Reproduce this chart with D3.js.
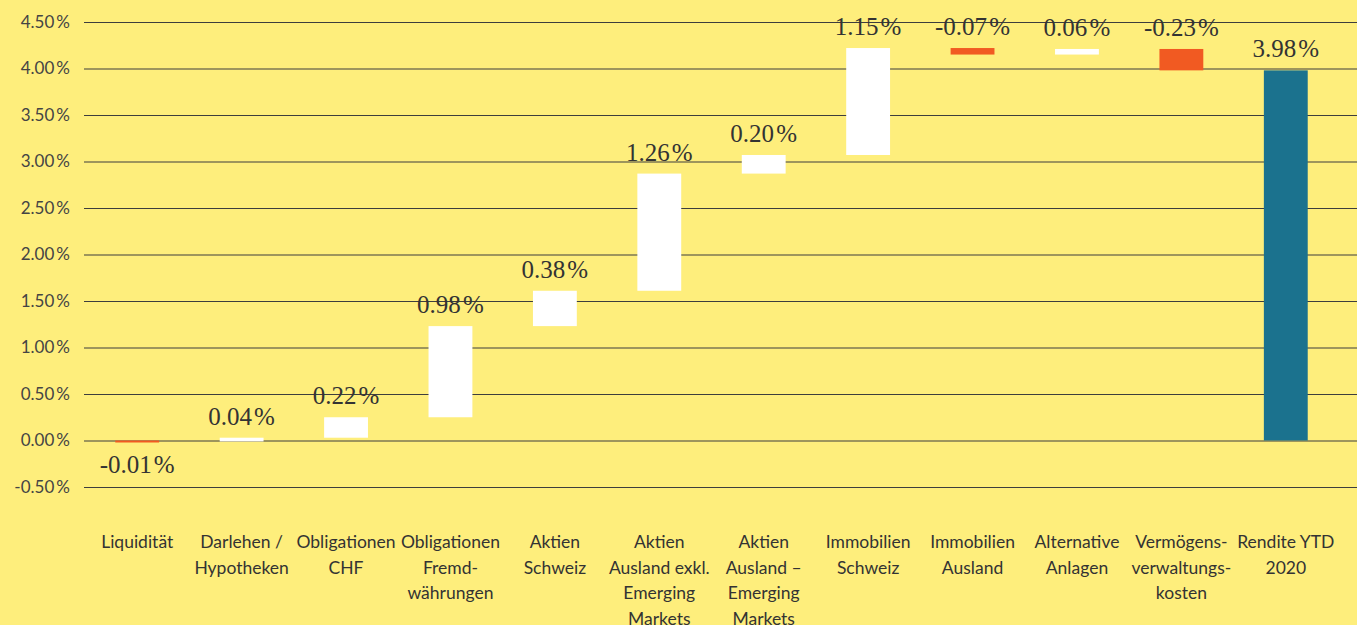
<!DOCTYPE html>
<html>
<head>
<meta charset="utf-8">
<script src="https://cdn.jsdelivr.net/npm/d3@7"></script>
<style>
  html, body { margin: 0; padding: 0; background: #FEEE7C; }
  svg { display: block; }
  .tick text { font-family: Lato, "Liberation Sans", sans-serif; }
</style>
</head>
<body>
<svg id="chart"></svg>
<script>
// Waterfall: Beiträge zur Rendite YTD 2020
const categories = [
  "Liquidität", "Darlehen /\nHypotheken", "Obligationen\nCHF", "Obligationen\nFremd-\nwährungen",
  "Aktien\nSchweiz", "Aktien\nAusland exkl.\nEmerging\nMarkets", "Aktien\nAusland –\nEmerging\nMarkets",
  "Immobilien\nSchweiz", "Immobilien\nAusland", "Alternative\nAnlagen",
  "Vermögens-\nverwaltungs-\nkosten", "Rendite YTD\n2020"
]
const contributions = [-0.01, 0.04, 0.22, 0.98, 0.38, 1.26, 0.20, 1.15, -0.07, 0.06, -0.23]
const total = 3.98
const yTicks = [-0.5, 0, 0.5, 1, 1.5, 2, 2.5, 3, 3.5, 4, 4.5]

const width = 1357, height = 625
const svg = d3.select('#chart').attr('width', width).attr('height', height)

const x = d3.scaleBand()
    .domain(categories)
    .range([85, 1338])
    .paddingInner(0.58)
    .paddingOuter(0.29)

const y = d3.scaleLinear()
    .domain([-0.5, 4.5])
    .range([487, 22])

// Bindestrich statt Minuszeichen wie im Original
const fmt = d3.formatLocale({ decimal: '.', thousands: "'", grouping: [3], currency: ['', ''], minus: '-' }).format('.2f')
const pctAxis = v => fmt(v) + '\u2009%'
const pctLabel = v => fmt(v) + '\u200a%'

// Gitterlinien + y-Achse
const yAxis = svg.append('g')
    .attr('transform', 'translate(84,0)')
    .call(d3.axisLeft(y).tickValues(yTicks).tickSize(-(width - 84)).tickPadding(14).tickFormat(pctAxis))
yAxis.select('.domain').remove()
yAxis.selectAll('.tick line').attr('stroke', '#3d3d3d').attr('stroke-width', 1.2)
yAxis.selectAll('.tick text').attr('fill', '#444').attr('font-size', 17)

// Balken berechnen
let cum = 0
const bars = contributions.map((v, i) => {
  const start = cum
  cum = +(cum + v).toFixed(2)
  return { cat: categories[i], value: v, start, end: cum, type: v < 0 ? 'neg' : 'pos' }
})
bars.push({ cat: categories[categories.length - 1], value: total, start: 0, end: total, type: 'total' })

const colors = { pos: '#ffffff', neg: '#F15A22', total: '#1B728E' }

svg.append('g')
  .selectAll('rect')
  .data(bars)
  .join('rect')
    .attr('x', d => x(d.cat))
    .attr('width', x.bandwidth())
    .attr('y', d => y(Math.max(d.start, d.end)))
    .attr('height', d => Math.max(2, Math.abs(y(d.start) - y(d.end))))
    .attr('fill', d => colors[d.type])

// Wertbeschriftungen
svg.append('g')
  .selectAll('text')
  .data(bars)
  .join('text')
    .attr('x', d => x(d.cat) + x.bandwidth() / 2)
    .attr('y', d => d.end < 0 ? y(Math.min(d.start, d.end)) + 32 : y(Math.max(d.start, d.end)) - 13)
    .attr('text-anchor', 'middle')
    .attr('font-family', '"Liberation Serif", "DejaVu Serif", serif')
    .attr('font-size', 25)
    .attr('fill', '#333')
    .text(d => pctLabel(d.value))

// Kategorien
const xAxis = svg.append('g')
    .call(d3.axisBottom(x).tickSize(0).tickFormat(''))
xAxis.select('.domain').remove()
xAxis.selectAll('.tick').each(function (d) {
  const t = d3.select(this).append('text')
      .attr('text-anchor', 'middle')
      .attr('fill', '#333')
      .attr('font-size', 17.5)
      .attr('y', 548)
  d.split('\n').forEach((line, i) => {
    t.append('tspan').attr('x', 0).attr('dy', i === 0 ? 0 : 25.5).text(line)
  })
})
</script>
</body>
</html>
